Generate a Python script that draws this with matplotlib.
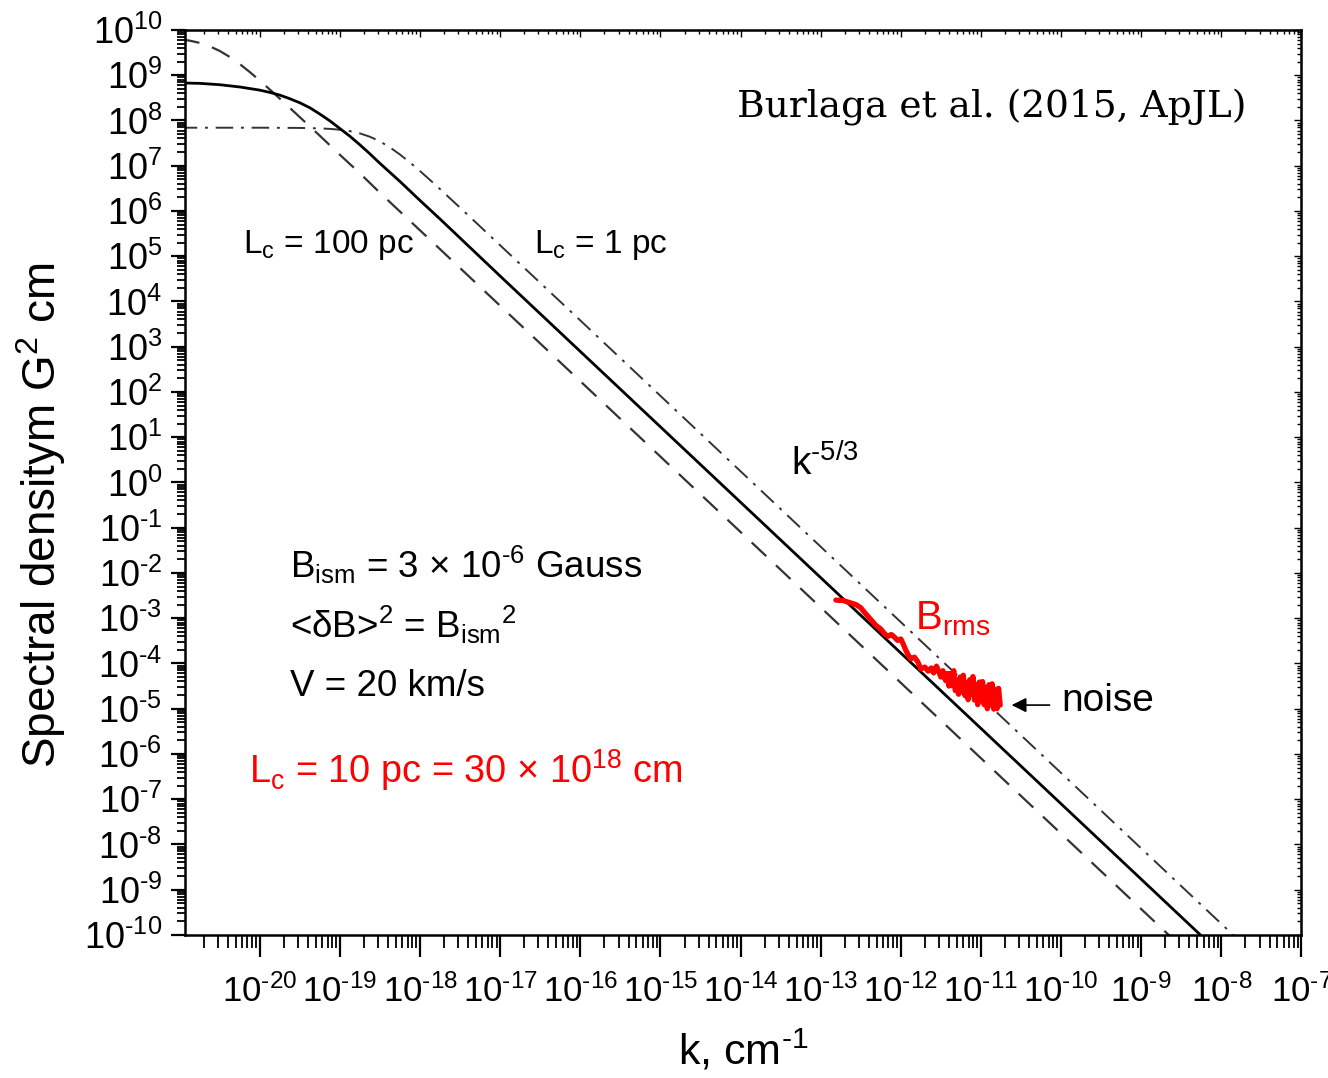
import matplotlib
matplotlib.use("Agg")
import matplotlib.pyplot as plt
import numpy as np
from matplotlib.ticker import LogLocator, NullFormatter, FuncFormatter, FixedLocator

plt.rcParams['font.family'] = ['Liberation Sans', 'DejaVu Sans']
plt.rcParams['mathtext.fontset'] = 'custom'
plt.rcParams['mathtext.rm'] = 'Liberation Sans'
plt.rcParams['mathtext.it'] = 'Liberation Sans:italic'
plt.rcParams['mathtext.default'] = 'regular'

HY = '\u2010'  # short hyphen like the original's superscript minus

# tick decades shown on the axes
x_decades = list(range(-20, -6))
y_decades = list(range(-10, 11))

# values, as log10(k [cm^-1]) and log10(P [G^2 cm])
lc10_logk = [-21.0, -20.75, -20.5, -20.25, -20.0, -19.875, -19.75, -19.625, -19.5, -19.375,
             -19.25, -19.125, -19.0, -18.875, -18.75, -18.625, -18.5, -18.375, -18.25,
             -18.0, -17.75, -17.5, -17.0, -7.0]
lc10_logp = [8.83, 8.82, 8.79, 8.74, 8.67, 8.62, 8.56, 8.48, 8.39, 8.28,
             8.14, 7.99, 7.82, 7.65, 7.46, 7.26, 7.05, 6.85, 6.65,
             6.23, 5.82, 5.40, 4.56, -12.10]

lc100_logk = [-21.0, -20.875, -20.75, -20.625, -20.5, -20.375, -20.25, -20.125, -20.0, -19.875,
              -19.75, -19.5, -19.25, -19.0, -18.75, -18.5, -18.0, -7.0]
lc100_logp = [9.795, 9.764, 9.714, 9.639, 9.536, 9.403, 9.246, 9.069, 8.880, 8.683,
              8.481, 8.071, 7.66, 7.24, 6.83, 6.40, 5.57, -12.76]

lc1_logk = [-21.0, -20.0, -19.5, -19.25, -19.125, -19.0, -18.875, -18.75, -18.625, -18.5,
            -18.375, -18.25, -18.125, -18.0, -17.875, -17.75, -17.5, -17.25, -17.0, -16.0, -7.0]
lc1_logp = [7.84, 7.84, 7.835, 7.825, 7.814, 7.795, 7.764, 7.714, 7.639, 7.536,
            7.403, 7.246, 7.069, 6.880, 6.683, 6.481, 6.071, 5.656, 5.24, 3.58, -11.42]

brms_logk = [-12.81, -12.72, -12.63, -12.56, -12.50, -12.44, -12.38, -12.31, -12.25, -12.20,
             -12.16, -12.12, -12.09, -12.04, -12.00, -11.97, -11.94, -11.90, -11.875,
             -11.83, -11.79, -11.75, -11.70, -11.66, -11.62, -11.59, -11.555, -11.525, -11.50,
             -11.475, -11.455,
             -11.44, -11.42, -11.40, -11.38, -11.36, -11.34, -11.32, -11.30, -11.28, -11.26,
             -11.24, -11.22, -11.20, -11.18, -11.16, -11.14, -11.12, -11.10, -11.08, -11.06,
             -11.04, -11.02, -11.00, -10.98, -10.96, -10.94, -10.92, -10.90, -10.88, -10.86,
             -10.84, -10.82, -10.80, -10.78, -10.76]
brms_logp = [-2.60, -2.61, -2.66, -2.70, -2.77, -2.90, -3.02, -3.16, -3.24, -3.35,
             -3.40, -3.36, -3.40, -3.49, -3.46, -3.57, -3.70, -3.84, -3.90,
             -3.86, -3.96, -4.12, -4.08, -4.17, -4.10, -4.21, -4.06, -4.18, -4.30,
             -4.16, -4.32,
             -4.38, -4.22, -4.50, -4.22, -4.49, -4.16, -4.60, -4.38, -4.68, -4.30,
             -4.63, -4.26, -4.71, -4.42, -4.80, -4.36, -4.69, -4.29, -4.81, -4.47,
             -4.91, -4.41, -4.81, -4.40, -4.91, -4.53, -5.00, -4.47, -4.91, -4.45,
             -5.01, -4.57, -5.00, -4.55, -4.92]


def pow10_label(v, pos):
    e = int(round(np.log10(v)))
    return '$10^{%s}$' % str(e).replace('-', HY)


fig = plt.figure(figsize=(13.28, 10.78), dpi=100)
ax = fig.add_axes([0.139, 0.1327, 0.841, 0.8395])
ax.set_xscale('log')
ax.set_yscale('log')

ax.plot(10 ** np.array(lc100_logk), 10 ** np.array(lc100_logp), color='#333333', lw=1.6,
        dashes=(9, 6))
ax.plot(10 ** np.array(lc1_logk), 10 ** np.array(lc1_logp), color='#333333', lw=1.4,
        dashes=(9, 4, 1.5, 4))
ax.plot(10 ** np.array(lc10_logk), 10 ** np.array(lc10_logp), color='black', lw=2.0)
ax.plot(10 ** np.array(brms_logk), 10 ** np.array(brms_logp), color='#ff0000', lw=3.8,
        solid_joinstyle='round', solid_capstyle='round')

ax.set_xlim(1.15e-21, 1e-7)
ax.set_ylim(1e-10, 1e10)

ax.xaxis.set_major_locator(FixedLocator(10.0 ** np.array(x_decades)))
ax.xaxis.set_minor_locator(LogLocator(base=10, subs=np.arange(2, 10), numticks=40))
ax.yaxis.set_major_locator(FixedLocator(10.0 ** np.array(y_decades)))
ax.yaxis.set_minor_locator(LogLocator(base=10, subs=np.arange(2, 10), numticks=40))
ax.xaxis.set_major_formatter(FuncFormatter(pow10_label))
ax.yaxis.set_major_formatter(FuncFormatter(pow10_label))
ax.xaxis.set_minor_formatter(NullFormatter())
ax.yaxis.set_minor_formatter(NullFormatter())

ax.tick_params(axis='x', which='major', direction='out', length=16, width=1.6, labelsize=25, pad=12)
ax.tick_params(axis='x', which='minor', direction='out', length=9, width=1.3)
ax.tick_params(axis='y', which='major', direction='out', length=10, width=1.6, labelsize=26, pad=6)
ax.tick_params(axis='y', which='minor', direction='out', length=6, width=1.3)
for s in ax.spines.values():
    s.set_linewidth(1.8)

# inward ticks on top and right
top = ax.secondary_xaxis('top')
top.xaxis.set_major_locator(FixedLocator(10.0 ** np.array(x_decades)))
top.xaxis.set_minor_locator(LogLocator(base=10, subs=np.arange(2, 10), numticks=40))
top.xaxis.set_major_formatter(NullFormatter())
top.tick_params(which='both', direction='in', labeltop=False, width=1.0)
top.tick_params(which='major', length=5)
top.tick_params(which='minor', length=3)
right = ax.secondary_yaxis('right')
right.yaxis.set_major_locator(FixedLocator(10.0 ** np.array(y_decades)))
right.yaxis.set_minor_locator(LogLocator(base=10, subs=np.arange(2, 10), numticks=40))
right.yaxis.set_major_formatter(NullFormatter())
right.tick_params(which='both', direction='in', labelright=False, width=1.0)
right.tick_params(which='major', length=5)
right.tick_params(which='minor', length=3)

ax.set_xlabel('k, cm$^{%s1}$' % HY, fontsize=31, labelpad=14)
ax.set_ylabel('Spectral densitym G$^{2}$ cm', fontsize=33)
ax.yaxis.set_label_coords(-0.104, 0.464)

tr = ax.transAxes
ax.text(0.495, 0.914, 'Burlaga et al. (2015, ApJL)', transform=tr, fontsize=27,
        family='DejaVu Serif', ha='left', va='center')
ax.text(0.052, 0.762, 'L$_{c}$ = 100 pc', transform=tr, fontsize=24, ha='left', va='center')
ax.text(0.313, 0.762, 'L$_{c}$ = 1 pc', transform=tr, fontsize=24, ha='left', va='center')
ax.text(0.543, 0.52, 'k$^{%s5/3}$' % HY, transform=tr, fontsize=28, ha='left', va='center')
ax.text(0.094, 0.409, 'B$_{ism}$ = 3 × 10$^{%s6}$ Gauss' % HY, transform=tr, fontsize=26.5,
        ha='left', va='center')
ax.text(0.094, 0.343, '<δB>$^{2}$ = B$_{ism}{}^{2}$', transform=tr, fontsize=26.5,
        ha='left', va='center')
ax.text(0.094, 0.275, 'V = 20 km/s', transform=tr, fontsize=26.5, ha='left', va='center')
ax.text(0.058, 0.182, 'L$_{c}$ = 10 pc = 30 × 10$^{18}$ cm', transform=tr, fontsize=27.3,
        ha='left', va='center', color='#ff0000')
ax.text(0.654, 0.35, 'B$_{rms}$', transform=tr, fontsize=29, ha='left', va='center',
        color='#ff0000')
ax.text(0.785, 0.259, 'noise', transform=tr, fontsize=28, ha='left', va='center')
ax.annotate('', xy=(0.738, 0.254), xytext=(0.777, 0.254), xycoords=tr, textcoords=tr,
            arrowprops=dict(arrowstyle='-|>', color='black', lw=1.2, mutation_scale=22))

fig.savefig('out.png', dpi=100)
